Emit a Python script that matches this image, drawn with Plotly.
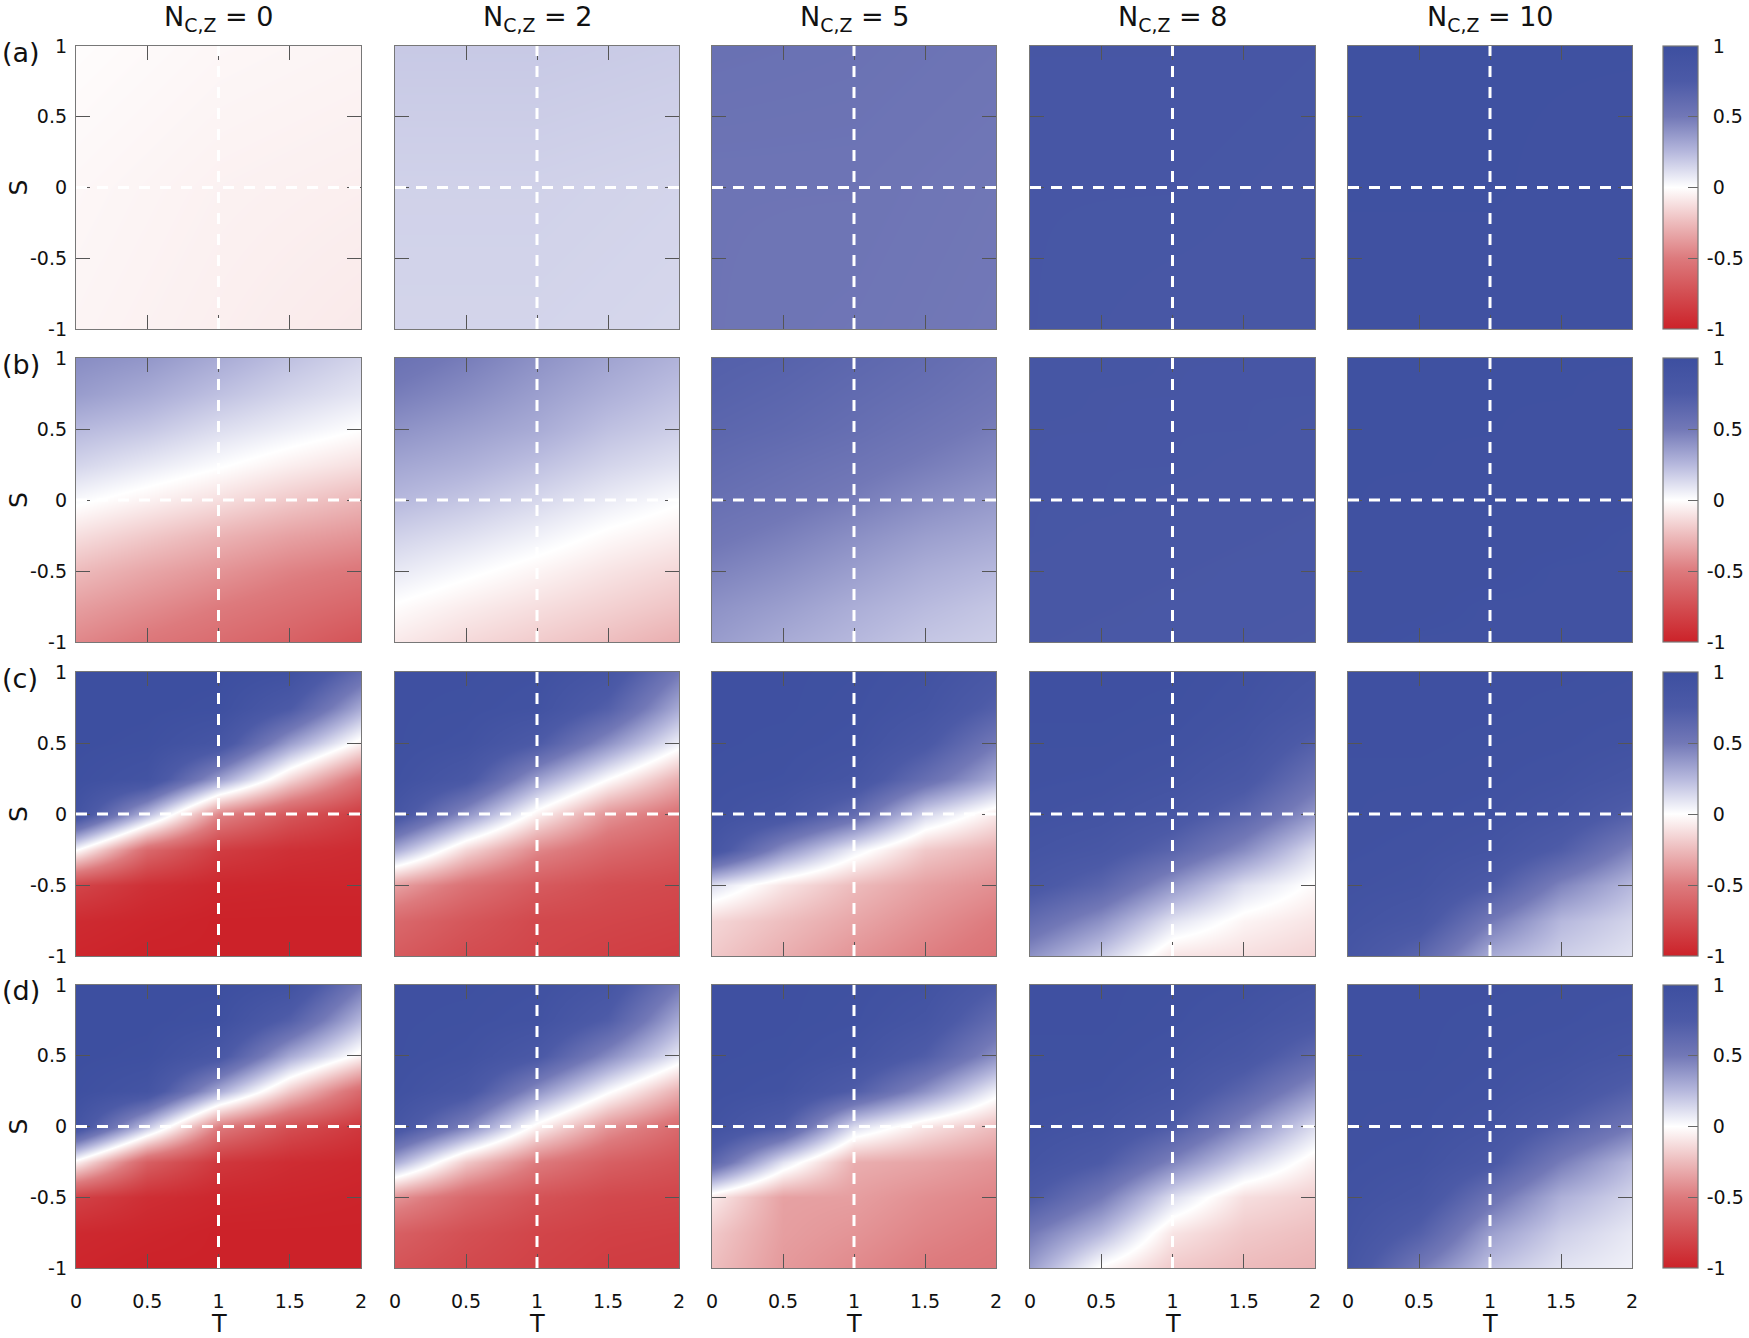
import plotly.graph_objects as go

# ---------------- data ----------------
N_VALUES = [0, 2, 5, 8, 10]
ROW_LABELS = ["(a)", "(b)", "(c)", "(d)"]

T_TICKS = [0, 0.5, 1, 1.5, 2]
T_TICK_TEXT = ["0", "0.5", "1", "1.5", "2"]
S_TICKS = [-1, -0.5, 0, 0.5, 1]
S_TICK_TEXT = ["-1", "-0.5", "0", "0.5", "1"]
CB_TICKS = [-1, -0.5, 0, 0.5, 1]
CB_TICK_TEXT = ["-1", "-0.5", "0", "0.5", "1"]

# sampling grids (cell centres) of the read-off values
T_GRID = [0, 0.5, 1, 1.5, 2]
S_GRID = [-1, -0.75, -0.5, -0.25, 0, 0.25, 0.5, 0.75, 1]
T_COARSE = [0, 1, 2]
S_COARSE = [-1, 0, 1]

# rows are listed from the top (S = 1) down to the bottom (S = -1)
# row (a): nearly uniform panels, coarse grid (S = 1, 0, -1)
A_N0 = [[-0.01, -0.03, -0.04],
        [-0.03, -0.05, -0.06],
        [-0.04, -0.06, -0.08]]
A_N2 = [[0.19, 0.19, 0.18],
        [0.16, 0.16, 0.15],
        [0.15, 0.15, 0.14]]
A_N5 = [[0.56, 0.55, 0.53],
        [0.53, 0.53, 0.51],
        [0.53, 0.52, 0.50]]
A_N8 = [[0.84, 0.84, 0.83],
        [0.83, 0.83, 0.82],
        [0.83, 0.82, 0.82]]
A_N10 = [[0.96, 0.96, 0.96],
         [0.96, 0.96, 0.95],
         [0.95, 0.95, 0.95]]

# row (b)
B_N0 = [[0.42, 0.38, 0.30, 0.22, 0.15],
        [0.36, 0.30, 0.22, 0.15, 0.09],
        [0.25, 0.20, 0.12, 0.06, 0.00],
        [0.15, 0.08, 0.01, -0.06, -0.12],
        [0.02, -0.05, -0.12, -0.20, -0.27],
        [-0.12, -0.20, -0.28, -0.35, -0.40],
        [-0.25, -0.33, -0.40, -0.47, -0.52],
        [-0.36, -0.43, -0.50, -0.56, -0.62],
        [-0.45, -0.52, -0.58, -0.64, -0.72]]
B_N2 = [[0.55, 0.48, 0.40, 0.33, 0.27],
        [0.48, 0.42, 0.35, 0.28, 0.22],
        [0.40, 0.35, 0.30, 0.22, 0.17],
        [0.32, 0.28, 0.22, 0.15, 0.10],
        [0.25, 0.20, 0.14, 0.07, 0.01],
        [0.16, 0.11, 0.05, -0.02, -0.07],
        [0.08, 0.02, -0.04, -0.10, -0.15],
        [-0.01, -0.07, -0.12, -0.17, -0.22],
        [-0.08, -0.14, -0.19, -0.24, -0.30]]
B_N5 = [[0.70, 0.68, 0.64, 0.60, 0.55],
        [0.68, 0.65, 0.61, 0.57, 0.52],
        [0.65, 0.62, 0.58, 0.53, 0.48],
        [0.61, 0.57, 0.53, 0.48, 0.43],
        [0.57, 0.53, 0.48, 0.42, 0.37],
        [0.52, 0.47, 0.41, 0.35, 0.31],
        [0.46, 0.41, 0.35, 0.29, 0.25],
        [0.40, 0.35, 0.29, 0.24, 0.20],
        [0.36, 0.30, 0.25, 0.20, 0.17]]
B_N8 = [[0.85, 0.85, 0.84, 0.84, 0.83],
        [0.85, 0.84, 0.84, 0.83, 0.83],
        [0.84, 0.84, 0.83, 0.83, 0.82],
        [0.84, 0.83, 0.83, 0.82, 0.82],
        [0.83, 0.83, 0.82, 0.82, 0.81],
        [0.83, 0.82, 0.82, 0.81, 0.80],
        [0.82, 0.82, 0.81, 0.80, 0.80],
        [0.82, 0.81, 0.80, 0.80, 0.79],
        [0.81, 0.80, 0.80, 0.79, 0.78]]
B_N10 = [[0.96, 0.96, 0.96, 0.96, 0.96],
         [0.96, 0.96, 0.96, 0.96, 0.95],
         [0.96, 0.96, 0.96, 0.95, 0.95],
         [0.96, 0.96, 0.95, 0.95, 0.95],
         [0.96, 0.95, 0.95, 0.95, 0.95],
         [0.95, 0.95, 0.95, 0.95, 0.94],
         [0.95, 0.95, 0.95, 0.94, 0.94],
         [0.95, 0.95, 0.94, 0.94, 0.94],
         [0.95, 0.94, 0.94, 0.94, 0.93]]

# row (c)
C_N0 = [[1.00, 1.00, 1.00, 0.95, 0.60],
        [1.00, 1.00, 0.98, 0.75, 0.30],
        [1.00, 0.98, 0.85, 0.35, -0.05],
        [0.98, 0.90, 0.35, -0.15, -0.55],
        [0.90, 0.25, -0.45, -0.70, -0.85],
        [0.00, -0.60, -0.85, -0.92, -0.95],
        [-0.80, -0.92, -0.97, -0.98, -0.98],
        [-0.95, -0.98, -1.00, -1.00, -1.00],
        [-0.98, -1.00, -1.00, -1.00, -1.00]]
C_N2 = [[0.97, 0.97, 0.95, 0.85, 0.50],
        [0.97, 0.96, 0.92, 0.70, 0.30],
        [0.97, 0.93, 0.75, 0.40, 0.05],
        [0.95, 0.80, 0.35, 0.00, -0.30],
        [0.85, 0.40, -0.05, -0.40, -0.55],
        [0.30, -0.15, -0.45, -0.60, -0.68],
        [-0.35, -0.55, -0.68, -0.75, -0.78],
        [-0.60, -0.70, -0.78, -0.80, -0.82],
        [-0.68, -0.76, -0.80, -0.83, -0.85]]
C_N5 = [[0.97, 0.97, 0.96, 0.92, 0.80],
        [0.97, 0.97, 0.95, 0.88, 0.70],
        [0.97, 0.96, 0.93, 0.78, 0.50],
        [0.96, 0.94, 0.86, 0.58, 0.30],
        [0.94, 0.85, 0.60, 0.15, -0.08],
        [0.85, 0.40, 0.06, -0.20, -0.30],
        [0.12, -0.10, -0.25, -0.35, -0.42],
        [-0.15, -0.24, -0.33, -0.42, -0.50],
        [-0.20, -0.30, -0.40, -0.48, -0.55]]
C_N8 = [[0.97, 0.97, 0.97, 0.94, 0.88],
        [0.97, 0.97, 0.96, 0.92, 0.83],
        [0.96, 0.96, 0.94, 0.88, 0.70],
        [0.95, 0.94, 0.90, 0.80, 0.55],
        [0.93, 0.90, 0.82, 0.65, 0.38],
        [0.88, 0.82, 0.66, 0.42, 0.12],
        [0.80, 0.66, 0.38, 0.12, -0.02],
        [0.60, 0.40, 0.10, -0.04, -0.10],
        [0.40, 0.18, -0.10, -0.12, -0.16]]
C_N10 = [[0.97, 0.97, 0.97, 0.97, 0.96],
         [0.97, 0.97, 0.97, 0.96, 0.95],
         [0.97, 0.97, 0.96, 0.95, 0.92],
         [0.96, 0.96, 0.95, 0.92, 0.85],
         [0.96, 0.95, 0.93, 0.86, 0.70],
         [0.95, 0.93, 0.88, 0.72, 0.45],
         [0.93, 0.90, 0.75, 0.45, 0.25],
         [0.90, 0.82, 0.50, 0.25, 0.15],
         [0.85, 0.65, 0.30, 0.17, 0.10]]

# row (d)
D_N0 = [[1.00, 1.00, 1.00, 0.92, 0.50],
        [1.00, 1.00, 0.97, 0.70, 0.25],
        [1.00, 0.98, 0.80, 0.30, -0.05],
        [0.98, 0.88, 0.30, -0.20, -0.60],
        [0.88, 0.20, -0.50, -0.75, -0.88],
        [-0.05, -0.65, -0.88, -0.94, -0.97],
        [-0.82, -0.93, -0.97, -0.98, -0.99],
        [-0.96, -0.98, -1.00, -1.00, -1.00],
        [-0.98, -1.00, -1.00, -1.00, -1.00]]
D_N2 = [[0.97, 0.97, 0.95, 0.85, 0.50],
        [0.97, 0.96, 0.92, 0.72, 0.30],
        [0.97, 0.93, 0.78, 0.42, 0.08],
        [0.95, 0.82, 0.40, 0.02, -0.30],
        [0.85, 0.45, -0.05, -0.40, -0.60],
        [0.30, -0.20, -0.50, -0.65, -0.72],
        [-0.40, -0.60, -0.72, -0.78, -0.80],
        [-0.65, -0.74, -0.80, -0.83, -0.84],
        [-0.72, -0.78, -0.82, -0.85, -0.86]]
D_N5 = [[0.97, 0.97, 0.96, 0.92, 0.75],
        [0.97, 0.97, 0.95, 0.86, 0.60],
        [0.97, 0.96, 0.90, 0.72, 0.40],
        [0.96, 0.92, 0.72, 0.40, 0.05],
        [0.92, 0.72, 0.12, -0.10, -0.25],
        [0.65, 0.10, -0.30, -0.34, -0.40],
        [-0.08, -0.35, -0.36, -0.42, -0.46],
        [-0.20, -0.36, -0.40, -0.46, -0.50],
        [-0.24, -0.38, -0.44, -0.50, -0.53]]
D_N8 = [[0.97, 0.97, 0.96, 0.94, 0.88],
        [0.97, 0.97, 0.95, 0.90, 0.80],
        [0.96, 0.96, 0.92, 0.82, 0.62],
        [0.95, 0.94, 0.86, 0.65, 0.38],
        [0.93, 0.88, 0.72, 0.42, 0.12],
        [0.88, 0.75, 0.45, 0.16, -0.06],
        [0.75, 0.50, 0.12, -0.12, -0.18],
        [0.50, 0.25, -0.10, -0.20, -0.24],
        [0.35, -0.02, -0.20, -0.25, -0.28]]
D_N10 = [[0.97, 0.97, 0.97, 0.96, 0.95],
         [0.97, 0.97, 0.96, 0.95, 0.92],
         [0.97, 0.97, 0.95, 0.92, 0.85],
         [0.96, 0.96, 0.93, 0.85, 0.70],
         [0.96, 0.95, 0.88, 0.70, 0.50],
         [0.95, 0.92, 0.78, 0.48, 0.25],
         [0.93, 0.85, 0.55, 0.28, 0.15],
         [0.90, 0.70, 0.35, 0.17, 0.08],
         [0.85, 0.50, 0.22, 0.10, 0.05]]

PANELS = [
    [A_N0, A_N2, A_N5, A_N8, A_N10],
    [B_N0, B_N2, B_N5, B_N8, B_N10],
    [C_N0, C_N2, C_N5, C_N8, C_N10],
    [D_N0, D_N2, D_N5, D_N8, D_N10],
]

# ---------------- style / layout ----------------
W, H = 1749, 1338
FONT = "DejaVu Sans"
COLORSCALE = [
    [0.000, "rgb(204,34,41)"],
    [0.125, "rgb(211,78,82)"],
    [0.250, "rgb(221,122,125)"],
    [0.375, "rgb(237,187,188)"],
    [0.500, "rgb(255,255,255)"],
    [0.625, "rgb(182,184,221)"],
    [0.750, "rgb(114,120,183)"],
    [0.875, "rgb(76,90,167)"],
    [1.000, "rgb(61,79,160)"],
]

# target pixel positions in the 1749x1338 picture
COL_PX = [(76, 361), (395, 679), (712, 996), (1030, 1315), (1348, 1632)]
ROW_PX = [(46, 329), (358, 642), (672, 956), (985, 1268)]
CB_LEFT_PX = 1663
CB_THICK_PX = 35


def px_x(p):
    return p / W


def px_y(p):
    return 1 - p / H


col_dom = [[px_x(a), px_x(b)] for a, b in COL_PX]
row_dom = [[px_y(b), px_y(a)] for a, b in ROW_PX]

# colourbar labels: digits start a little away from the bar, minus signs hang left
cb_labels = [("\u2009" if t.startswith("-") else " \u2009") + t for t in CB_TICK_TEXT]

fig = go.Figure()
layout = dict(
    width=W, height=H,
    margin=dict(l=0, r=0, t=0, b=0, autoexpand=False),
    paper_bgcolor="white", plot_bgcolor="white",
    font=dict(family=FONT, size=19, color="#111"),
    showlegend=False,
)
shapes = []
annotations = []

k = 0
for r in range(4):
    ca = "coloraxis" if r == 0 else f"coloraxis{r + 1}"
    y0d, y1d = row_dom[r]
    layout[ca] = dict(
        cmin=-1, cmax=1, colorscale=COLORSCALE,
        colorbar=dict(
            x=px_x(CB_LEFT_PX), xanchor="left", xpad=0,
            y=(y0d + y1d) / 2, yanchor="middle", ypad=0,
            len=(y1d - y0d), lenmode="fraction",
            thickness=CB_THICK_PX, thicknessmode="pixels",
            outlinecolor="#777", outlinewidth=1.2,
            tickmode="array", tickvals=CB_TICKS, ticktext=cb_labels,
            ticks="inside", ticklen=10, tickwidth=1.2, tickcolor="#666",
            tickfont=dict(family=FONT, size=19, color="#111"),
        ),
    )
    for c in range(5):
        k += 1
        xs = "" if k == 1 else str(k)
        z_rows = PANELS[r][c]
        coarse = len(z_rows) == 3
        tg = T_COARSE if coarse else T_GRID
        sg = S_COARSE if coarse else S_GRID
        fig.add_trace(go.Heatmap(
            x=tg, y=sg, z=list(reversed(z_rows)),
            zsmooth="best", coloraxis=ca,
            xaxis="x" + xs, yaxis="y" + xs, hoverinfo="skip",
        ))
        axcommon = dict(
            ticks="inside", ticklen=14, tickwidth=1.3, tickcolor="#555",
            mirror="allticks", showline=True, linecolor="#777", linewidth=1.3,
            showgrid=False, zeroline=False, tickmode="array",
            tickfont=dict(family=FONT, size=19, color="#111"),
        )
        layout["xaxis" + xs] = dict(
            axcommon, domain=col_dom[c], anchor="y" + xs, range=[0, 2],
            tickvals=T_TICKS, ticktext=T_TICK_TEXT,
            showticklabels=(r == 3), ticklabelstandoff=16,
        )
        layout["yaxis" + xs] = dict(
            axcommon, domain=row_dom[r], anchor="x" + xs, range=[-1, 1],
            tickvals=S_TICKS, ticktext=S_TICK_TEXT,
            showticklabels=(c == 0), ticklabelstandoff=4,
        )
        dash = dict(color="white", width=3, dash="11px,10px")
        shapes.append(dict(type="line", xref="x" + xs, yref="y" + xs,
                           x0=1, x1=1, y0=-1, y1=1, line=dash, layer="above"))
        shapes.append(dict(type="line", xref="x" + xs, yref="y" + xs,
                           x0=0, x1=2, y0=0, y1=0, line=dash, layer="above"))

    # row label and S axis label
    annotations.append(dict(text=ROW_LABELS[r], xref="paper", yref="paper",
                            x=0.0, xanchor="left", y=px_y(ROW_PX[r][0] + 6),
                            yanchor="middle", showarrow=False,
                            font=dict(family=FONT, size=27, color="#111")))
    annotations.append(dict(text="S", xref="paper", yref="paper",
                            x=px_x(18), xanchor="center", y=(y0d + y1d) / 2,
                            yanchor="middle", showarrow=False, textangle=-90,
                            font=dict(family=FONT, size=25, color="#111")))

for c in range(5):
    xc = (col_dom[c][0] + col_dom[c][1]) / 2
    annotations.append(dict(text=f"N<sub>C,Z</sub> = {N_VALUES[c]}",
                            xref="paper", yref="paper", x=xc, xanchor="center",
                            y=px_y(18), yanchor="middle", showarrow=False,
                            font=dict(family=FONT, size=27, color="#111")))
    annotations.append(dict(text="T", xref="paper", yref="paper", x=xc,
                            xanchor="center", y=px_y(1324), yanchor="middle",
                            showarrow=False,
                            font=dict(family=FONT, size=24, color="#111")))

layout["shapes"] = shapes
layout["annotations"] = annotations
fig.update_layout(**layout)
# the page's default 8px body margin would push the figure off the window
fig.write_html("out.html", config={"displayModeBar": False},
               post_script="document.body.style.margin='0px';")
